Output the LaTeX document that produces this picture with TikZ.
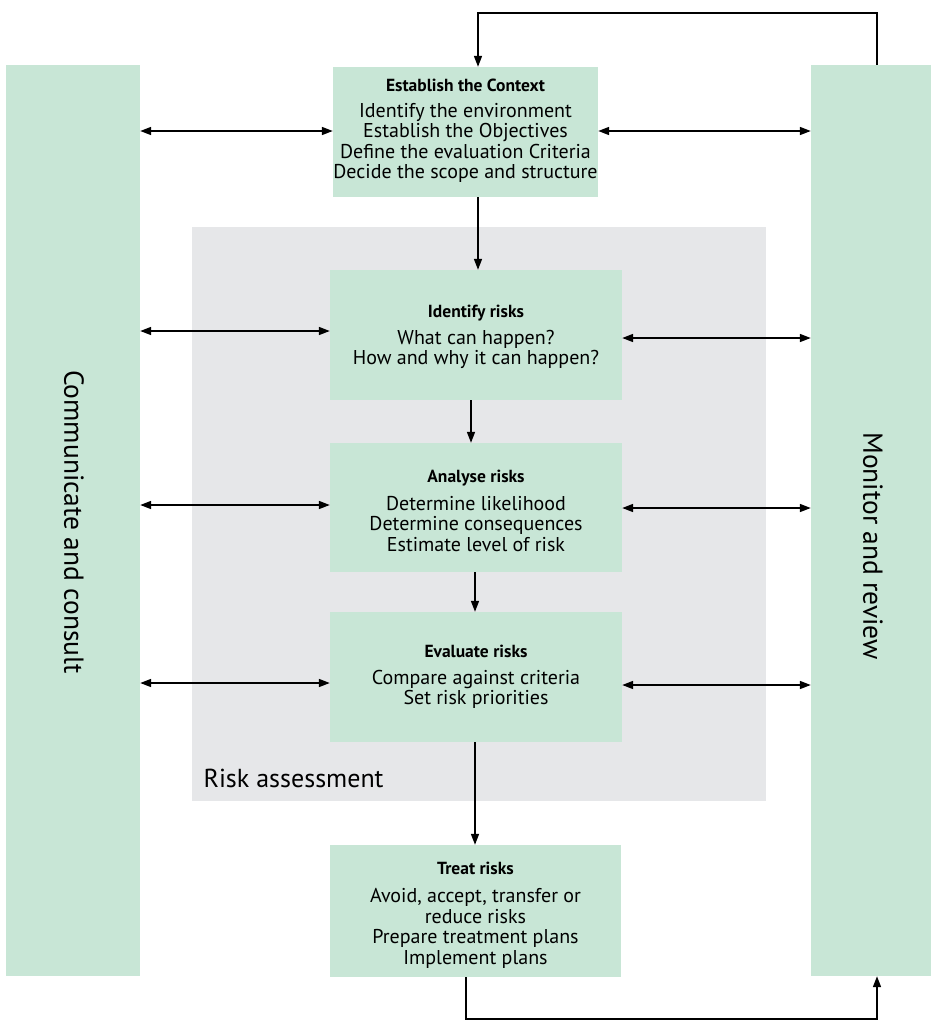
\documentclass[tikz,border=0pt]{standalone}
\usepackage{fontspec}
\setmainfont{PT Sans}
\usetikzlibrary{arrows.meta}
\definecolor{boxgreen}{HTML}{C8E6D6}
\definecolor{areagray}{HTML}{E6E7E9}
\newcommand{\ttl}[1]{{\fontsize{17.5}{20}\selectfont\textbf{#1}}}
\begin{document}
\begin{tikzpicture}[x=1pt,y=-1pt,
  gbox/.style={fill=boxgreen,draw=none,inner sep=0pt},
  gtext/.style={inner sep=0pt,align=center,font=\fontsize{20}{20.5}\selectfont},
  conn/.style={draw=black,line width=1.6pt,-{Triangle[length=11pt,width=8pt]}},
  dconn/.style={draw=black,line width=1.6pt,{Triangle[length=11pt,width=8pt]}-{Triangle[length=11pt,width=8pt]}}]
\useasboundingbox (0,0) rectangle (931,1021);
% gray area
\fill[areagray] (192,227) rectangle (766,801);
\node[anchor=west,font=\fontsize{26}{28}\selectfont] (ra) at (200,778) {Risk assessment};
% side bars
\node[gbox,minimum width=134pt,minimum height=911pt] (leftbar) at (73,520.5) {};
\node[rotate=-90,font=\fontsize{27.5}{30}\selectfont] (lt) at (74,522) {Communicate and consult};
\node[gbox,minimum width=120pt,minimum height=911pt] (rightbar) at (871,520.5) {};
\node[rotate=-90,font=\fontsize{27.5}{30}\selectfont] (rt) at (873,546) {Monitor and review};
% boxes
\node[gbox,minimum width=265pt,minimum height=130pt] (ctx) at (465.5,132) {};
\node[gtext] (ctxT) at (465.5,131) {\ttl{Establish the Context}\\[5pt]Identify the environment\\Establish the Objectives\\Define the evaluation Criteria\\Decide the scope and structure};
\node[gbox,minimum width=292pt,minimum height=130pt] (ide) at (476,335) {};
\node[gtext] (ideT) at (476,337) {\ttl{Identify risks}\\[6pt]What can happen?\\How and why it can happen?};
\node[gbox,minimum width=292pt,minimum height=129pt] (ana) at (476,507.5) {};
\node[gtext] (anaT) at (476,511) {\ttl{Analyse risks}\\[7pt]Determine likelihood\\Determine consequences\\Estimate level of risk};
\node[gbox,minimum width=292pt,minimum height=130pt] (eva) at (476,677) {};
\node[gtext] (evaT) at (476,677) {\ttl{Evaluate risks}\\[6pt]Compare against criteria\\Set risk priorities};
\node[gbox,minimum width=291pt,minimum height=132pt] (tre) at (475.5,911) {};
\node[gtext] (treT) at (475.5,915) {\ttl{Treat risks}\\[8pt]Avoid, accept, transfer or\\reduce risks\\Prepare treatment plans\\Implement plans};
% horizontal double arrows
\draw[dconn] (leftbar.east |- 0,131) -- (ctx.west |- 0,131);
\draw[dconn] (ctx.east |- 0,131) -- (rightbar.west |- 0,131);
\draw[dconn] (leftbar.east |- 0,331) -- (ide.west |- 0,331);
\draw[dconn] (ide.east |- 0,338) -- (rightbar.west |- 0,338);
\draw[dconn] (leftbar.east |- 0,505) -- (ana.west |- 0,505);
\draw[dconn] (ana.east |- 0,508) -- (rightbar.west |- 0,508);
\draw[dconn] (leftbar.east |- 0,683) -- (eva.west |- 0,683);
\draw[dconn] (eva.east |- 0,685) -- (rightbar.west |- 0,685);
% vertical arrows
\draw[conn] (ctx.south -| 478,0) -- (ide.north -| 478,0);
\draw[conn] (ide.south -| 471,0) -- (ana.north -| 471,0);
\draw[conn] (ana.south -| 475,0) -- (eva.north -| 475,0);
\draw[conn] (eva.south -| 475,0) -- (tre.north -| 475,0);
% loops
\coordinate (t1) at (877,13);
\coordinate (t2) at (478,13);
\draw[conn] (rightbar.north -| 877,0) -- (t1) -- (t2) -- (ctx.north -| 478,0);
\coordinate (b1) at (466,1019);
\coordinate (b2) at (877,1019);
\draw[conn] (tre.south -| 466,0) -- (b1) -- (b2) -- (rightbar.south -| 877,0);
\end{tikzpicture}
\end{document}
